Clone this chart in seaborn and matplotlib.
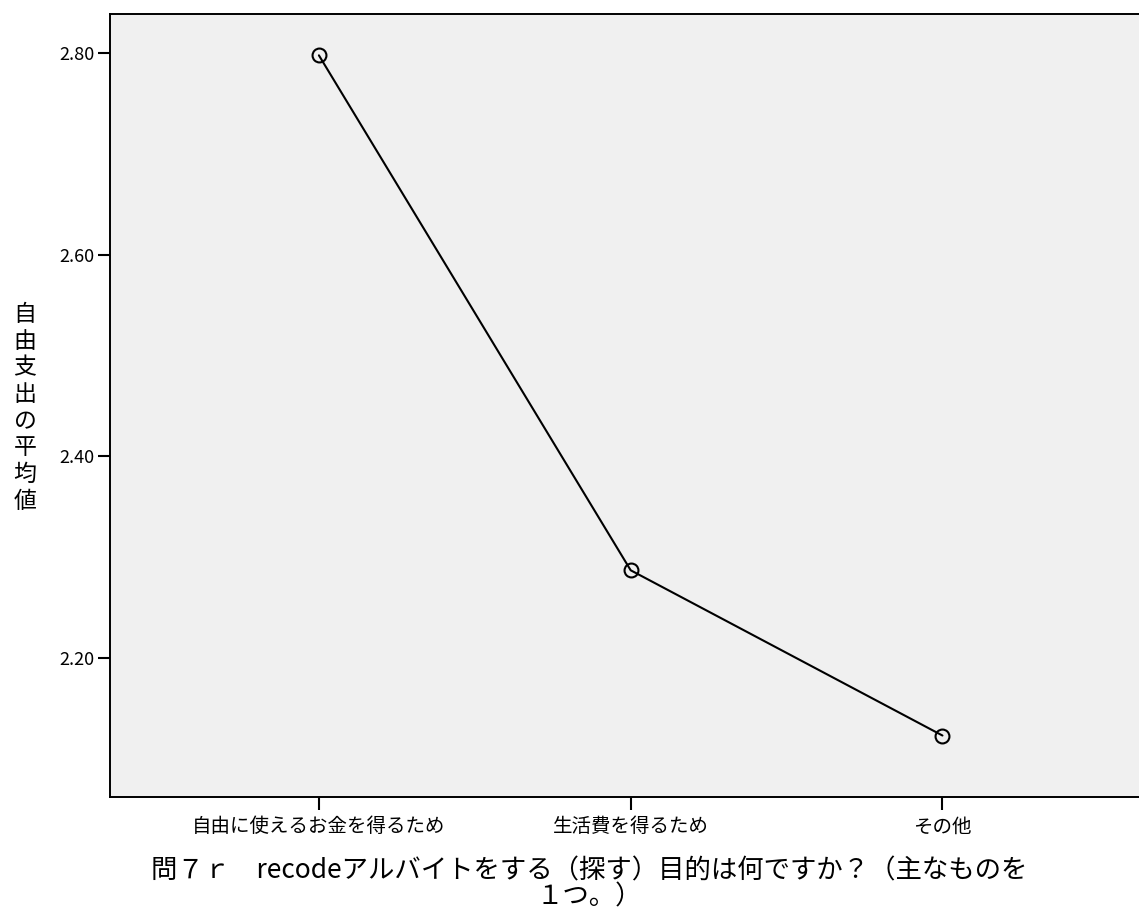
import pandas as pd
import seaborn as sns
import matplotlib.pyplot as plt

categories = ["自由に使えるお金を得るため", "生活費を得るため", "その他"]
means = [2.798, 2.287, 2.123]
y_ticks = [2.20, 2.40, 2.60, 2.80]
x_title = "問７ｒ　recodeアルバイトをする（探す）目的は何ですか？（主なものを\n１つ。）"
y_title = "自由支出の平均値"

df = pd.DataFrame({"purpose": categories, "mean": means})

sns.set_style("white")
plt.rcParams["font.family"] = ["Noto Sans CJK JP", "DejaVu Sans"]
plt.rcParams["text.color"] = "black"
plt.rcParams["xtick.color"] = "black"
plt.rcParams["ytick.color"] = "black"
plt.rcParams["axes.labelcolor"] = "black"

fig = plt.figure(figsize=(11.39, 9.10), dpi=100)
ax = fig.add_axes([110 / 1139, 1 - 797 / 910, 1032 / 1139, 783 / 910])
ax.set_facecolor("#f0f0f0")

sns.lineplot(data=df, x="purpose", y="mean", sort=False, color="black",
             linewidth=1.5, marker="o", markersize=10, markerfacecolor="none",
             markeredgecolor="black", markeredgewidth=1.5, ax=ax)

ax.set_xlim(-0.67, 2.64)
ax.set_ylim(2.062, 2.839)
ax.set_yticks(y_ticks)
ax.set_yticklabels([f"{v:.2f}" for v in y_ticks])

for s in ax.spines.values():
    s.set_color("black")
    s.set_linewidth(1.4)

ax.tick_params(axis="both", direction="out", length=9, width=1.5,
               bottom=True, left=True, pad=2)
ax.tick_params(axis="x", labelsize=14, pad=5)
ax.tick_params(axis="y", labelsize=13)
ax.set_xlabel(x_title, fontsize=19, linespacing=0.95)
ax.xaxis.set_label_coords((589 - 110) / 1032, -0.077)
ax.xaxis.label.set_va("top")
ax.set_ylabel("")

fig.text(25 / 1139, 1 - 408 / 910, "\n".join(y_title), fontsize=16.5,
         ha="center", va="center", linespacing=1.2)

fig.savefig("out.png", dpi=100)
